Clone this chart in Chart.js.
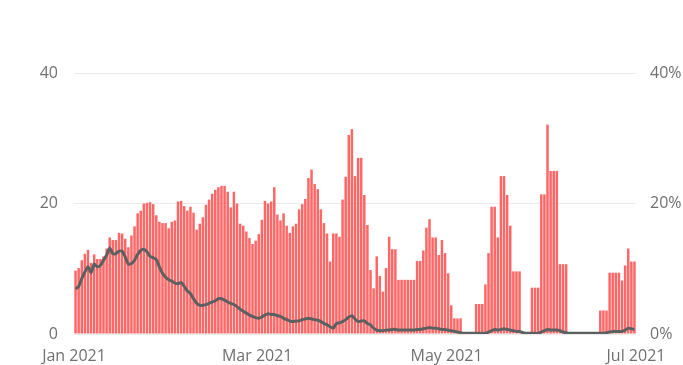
<!DOCTYPE html>
<html>
<head>
<meta charset="utf-8">
<script src="https://cdn.jsdelivr.net/npm/chart.js@4/dist/chart.umd.min.js"></script>
<style>
  html, body { margin: 0; padding: 0; background: #fff; overflow: hidden; }
  #wrap { width: 700px; height: 365px; }
</style>
</head>
<body>
<div id="wrap"><canvas id="chart" width="700" height="365"></canvas></div>
<script>
// daily counts, Jan 1 – Jun 30 2021
const dailyCases = [
  9.7, 10.1, 11.3, 12.3, 12.9, 10.9, 12.2, 11.5, 11.5, 11.9,
  13.1, 14.8, 14.4, 14.4, 15.5, 15.4, 14.6, 13.3, 15.1, 16.5,
  18.5, 18.9, 20.0, 20.1, 20.2, 19.9, 18.2, 17.2, 17.0, 17.0,
  16.2, 17.2, 17.4, 20.3, 20.4, 19.6, 18.9, 19.5, 18.6, 16.0,
  16.9, 17.9, 19.8, 20.6, 21.5, 22.1, 22.5, 22.7, 22.7, 21.8,
  19.4, 21.8, 20.0, 16.9, 16.6, 15.7, 14.7, 13.8, 14.3, 15.3,
  17.5, 20.4, 20.0, 20.3, 22.5, 18.3, 17.4, 18.5, 16.6, 15.5,
  16.5, 16.9, 19.1, 19.9, 20.7, 23.9, 25.2, 23.0, 22.2, 19.1,
  17.0, 15.4, 11.1, 15.4, 15.4, 14.9, 20.6, 24.1, 30.5, 31.4,
  24.2, 27.0, 27.0, 21.3, 16.7, 9.8, 7.0, 11.9, 8.9, 6.5,
  10.1, 14.9, 13.0, 13.0, 8.3, 8.3, 8.3, 8.3, 8.3, 8.3,
  11.2, 11.2, 12.8, 16.3, 17.6, 14.8, 14.8, 12.1, 14.4, 12.4,
  9.3, 4.4, 2.4, 2.4, 2.4, 0, 0, 0, 0, 4.6,
  4.6, 4.6, 7.6, 12.4, 19.5, 19.5, 14.8, 24.2, 24.2, 21.3,
  16.6, 9.6, 9.6, 9.6, 0, 0, 0, 7.1, 7.1, 7.1,
  21.4, 21.4, 32.1, 25.0, 25.0, 25.0, 10.7, 10.7, 10.7, 0,
  0, 0, 0, 0, 0, 0, 0, 0, 0, 3.6,
  3.6, 3.6, 9.4, 9.4, 9.4, 9.4, 8.2, 10.5, 13.1, 11.1,
  11.1
];

// positivity rate, %
const positiveRate = [
  6.9, 7.3, 8.5, 9.5, 10.3, 9.4, 10.7, 10.3, 10.5, 11.3,
  12.1, 13.2, 12.3, 12.3, 12.7, 12.7, 11.8, 10.7, 10.8, 11.3,
  12.2, 12.8, 13.0, 12.6, 11.9, 11.7, 11.4, 10.3, 9.3, 8.7,
  8.3, 8.1, 7.8, 7.7, 7.9, 7.3, 6.6, 6.2, 5.4, 4.7,
  4.4, 4.4, 4.5, 4.7, 4.9, 5.1, 5.4, 5.4, 5.2, 4.9,
  4.7, 4.5, 4.2, 3.8, 3.5, 3.2, 2.9, 2.7, 2.5, 2.4,
  2.6, 2.9, 3.1, 3.0, 3.0, 2.8, 2.7, 2.4, 2.2, 2.0,
  1.9, 2.0, 2.0, 2.2, 2.3, 2.4, 2.3, 2.2, 2.1, 1.9,
  1.6, 1.4, 1.1, 0.9, 1.6, 1.7, 1.9, 2.2, 2.6, 2.8,
  2.3, 1.9, 2.0, 2.0, 1.6, 1.4, 0.9, 0.6, 0.5, 0.5,
  0.6, 0.6, 0.7, 0.7, 0.6, 0.6, 0.6, 0.6, 0.6, 0.6,
  0.7, 0.7, 0.8, 0.9, 1.0, 0.9, 0.9, 0.8, 0.7, 0.7,
  0.6, 0.5, 0.4, 0.3, 0.2, 0.1, 0.1, 0.1, 0.1, 0.1,
  0.1, 0.1, 0.1, 0.3, 0.5, 0.7, 0.6, 0.7, 0.8, 0.7,
  0.6, 0.5, 0.4, 0.4, 0.2, 0.1, 0.1, 0.1, 0.1, 0.1,
  0.3, 0.5, 0.7, 0.6, 0.6, 0.6, 0.5, 0.3, 0.2, 0.1,
  0.1, 0.1, 0.1, 0.1, 0.1, 0.1, 0.1, 0.1, 0.1, 0.1,
  0.1, 0.2, 0.3, 0.4, 0.4, 0.4, 0.4, 0.6, 0.9, 0.8,
  0.7
];

// month ticks as day offsets from Jan 1
const monthTicks = [0, 59, 120, 181];
const monthLabels = ['Jan 2021', 'Mar 2021', 'May 2021', 'Jul 2021'];
const leftTicks = [0, 20, 40];
const rightTicks = [0, 20, 40];

// each daily bar sits at midday
const days = dailyCases.map((_, i) => i + 0.5);

const textColor = '#707070';
const font = { family: 'Open Sans', size: 16 };

new Chart(document.getElementById('chart'), {
  type: 'bar',
  data: {
    labels: days,
    datasets: [
      {
        type: 'line',
        label: 'Positive rate',
        data: positiveRate,
        yAxisID: 'y1',
        borderColor: '#5b6060',
        borderWidth: 3,
        pointRadius: 0,
        tension: 0.2,
        order: 0,
      },
      {
        label: 'Cases',
        data: dailyCases,
        yAxisID: 'y',
        backgroundColor: '#ff6666',
        borderWidth: 0,
        categoryPercentage: 1,
        barPercentage: 0.8,
        order: 1,
      },
    ],
  },
  options: {
    responsive: false,
    animation: false,
    layout: { padding: { top: 73 } },
    plugins: {
      legend: { display: false },
      tooltip: { enabled: false },
    },
    scales: {
      x: {
        type: 'linear',
        min: 0,
        max: 181,
        offset: false,
        grid: { display: false },
        border: { display: false },
        afterBuildTicks: (scale) => {
          scale.ticks = monthTicks.map((v) => ({ value: v }));
        },
        afterFit: (scale) => { scale.height = 31; },
        ticks: {
          autoSkip: false,
          maxRotation: 0,
          padding: 5,
          color: textColor,
          font,
          callback: (v) => monthLabels[monthTicks.indexOf(v)],
        },
      },
      y: {
        position: 'left',
        min: 0,
        max: 40,
        afterBuildTicks: (scale) => {
          scale.ticks = leftTicks.map((v) => ({ value: v }));
        },
        afterFit: (scale) => { scale.width = 74; },
        grid: { color: '#ebebeb', lineWidth: 1, drawTicks: false },
        border: { display: false },
        ticks: { padding: 16, color: textColor, font },
      },
      y1: {
        position: 'right',
        min: 0,
        max: 40,
        afterBuildTicks: (scale) => {
          scale.ticks = rightTicks.map((v) => ({ value: v }));
        },
        afterFit: (scale) => { scale.width = 64; },
        grid: { drawOnChartArea: false, drawTicks: false },
        border: { display: false },
        ticks: {
          padding: 14,
          color: textColor,
          font,
          callback: (v) => v + '%',
        },
      },
    },
  },
});
</script>
</body>
</html>
